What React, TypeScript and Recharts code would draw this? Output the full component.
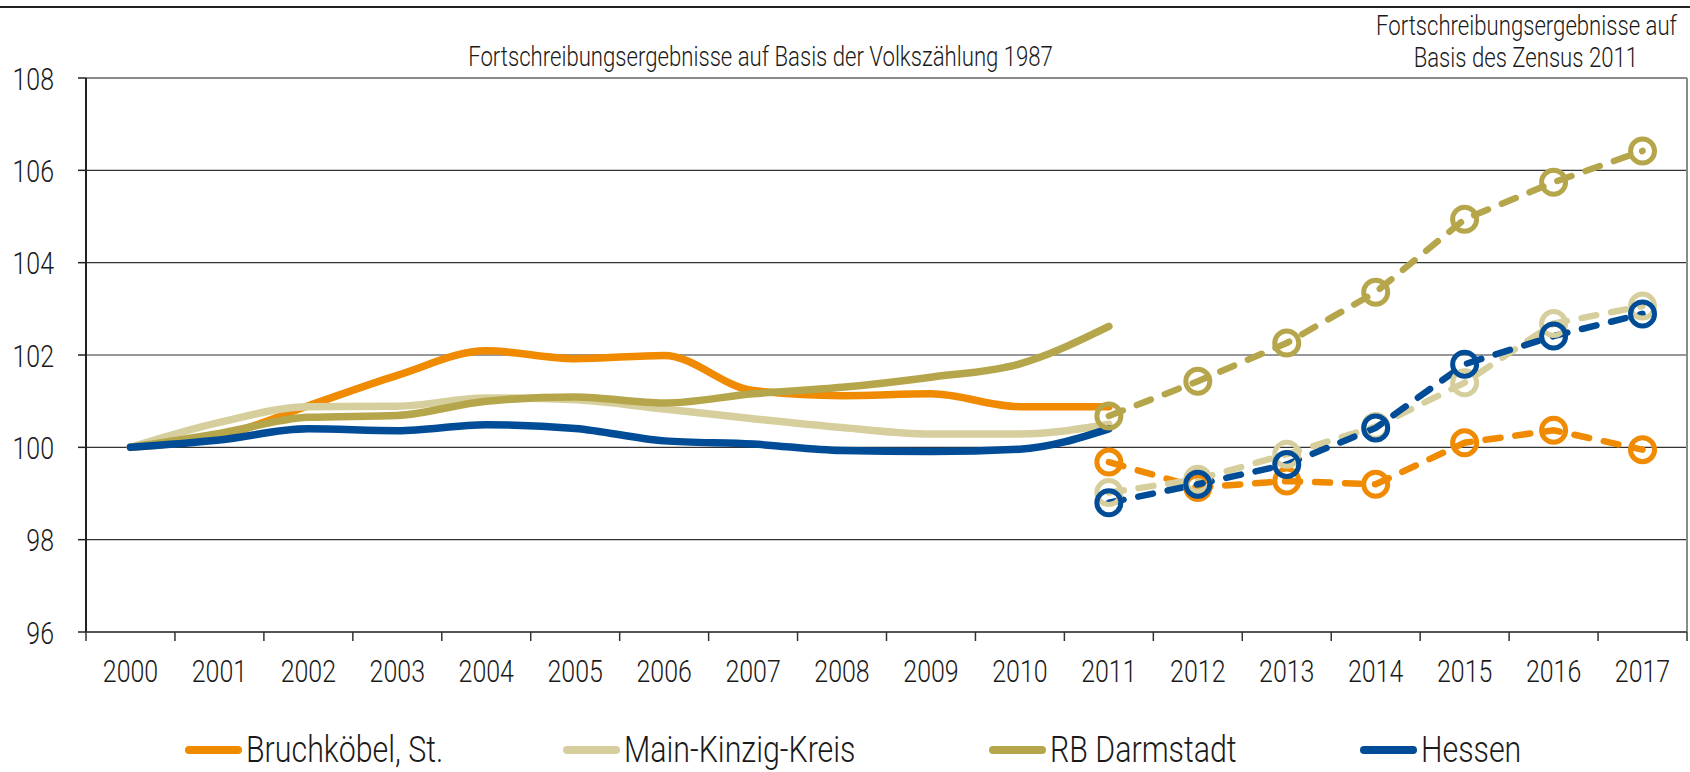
import React from 'react';
import { LineChart, Line, XAxis, YAxis, CartesianGrid, ReferenceLine } from 'recharts';

// Jahre (Kategorien)
const years = [2000, 2001, 2002, 2003, 2004, 2005, 2006, 2007, 2008, 2009, 2010, 2011, 2012, 2013, 2014, 2015, 2016, 2017];
const yTicks = [96, 98, 100, 102, 104, 106, 108];

// Fortschreibung Volkszählung 1987: 2000 - 2011
const bruchkoebelAlt = [100, 100.24, 100.9, 101.56, 102.09, 101.92, 101.99, 101.23, 101.12, 101.16, 100.88, 100.88];
const mainKinzigAlt = [100, 100.54, 100.88, 100.89, 101.07, 101.03, 100.83, 100.62, 100.43, 100.29, 100.29, 100.5];
const rbDarmstadtAlt = [100, 100.3, 100.65, 100.69, 101.0, 101.09, 100.96, 101.16, 101.3, 101.52, 101.81, 102.62];
const hessenAlt = [100, 100.16, 100.4, 100.36, 100.49, 100.41, 100.14, 100.07, 99.93, 99.91, 99.96, 100.4];

// Fortschreibung Zensus 2011: 2011 - 2017
const bruchkoebelNeu = [99.68, 99.13, 99.27, 99.2, 100.1, 100.37, 99.95];
const mainKinzigNeu = [99.02, 99.31, 99.85, 100.45, 101.4, 102.68, 103.06];
const rbDarmstadtNeu = [100.68, 101.43, 102.26, 103.36, 104.94, 105.74, 106.42];
const hessenNeu = [98.8, 99.2, 99.63, 100.42, 101.8, 102.41, 102.89];

const series = [
  { name: 'Bruchköbel, St.', color: '#f08a00', alt: bruchkoebelAlt, neu: bruchkoebelNeu },
  { name: 'Main-Kinzig-Kreis', color: '#d6cf9d', alt: mainKinzigAlt, neu: mainKinzigNeu },
  { name: 'RB Darmstadt', color: '#b6a64b', alt: rbDarmstadtAlt, neu: rbDarmstadtNeu },
  { name: 'Hessen', color: '#004c97', alt: hessenAlt, neu: hessenNeu },
];

// Legendenpositionen (Startpunkt der Linie)
const legendLeft = [185, 563, 989, 1360];

const FONT = "Roboto, 'Liberation Sans', sans-serif";
const TEXT = '#1a1a1a';
const SX = 0.78; // schmale Schrift nachbilden

const zensusStart = years.indexOf(2011);

const chartData = years.map((year, i) => {
  const row: { [key: string]: number | undefined } = { year };
  series.forEach((s, k) => {
    row[`alt${k}`] = s.alt[i];
    row[`neu${k}`] = i >= zensusStart ? s.neu[i - zensusStart] : undefined;
  });
  return row;
});

// Tickstriche zwischen den Jahren, Beschriftung in der Mitte
const xTicks = [...years.map((y) => y - 0.5), years[years.length - 1] + 0.5, ...years];

function YearTick(props: any) {
  const { x, y, payload } = props;
  const v = payload.value;
  if (!Number.isInteger(v)) {
    return <line x1={x} x2={x} y1={y} y2={y + 9} stroke="#333" strokeWidth={1.5} />;
  }
  return (
    <text
      transform={`translate(${x} ${y + 50}) scale(${SX} 1)`}
      textAnchor="middle"
      fontSize={32}
      fontWeight={300}
      fontFamily={FONT}
      fill={TEXT}
    >
      {v}
    </text>
  );
}

function ValueTick(props: any) {
  const { x, y, payload } = props;
  return (
    <text
      transform={`translate(${x} ${y + 11.5}) scale(${SX} 1)`}
      textAnchor="end"
      fontSize={32}
      fontWeight={300}
      fontFamily={FONT}
      fill={TEXT}
    >
      {payload.value}
    </text>
  );
}

const narrow = (s: number, origin: string): React.CSSProperties => ({
  display: 'inline-block',
  transform: `scaleX(${s})`,
  transformOrigin: origin,
});

export default function App() {
  return (
    <div style={{ position: 'absolute', left: 0, top: 0, width: 1690, height: 772, background: '#fff', fontFamily: FONT, fontWeight: 300, color: TEXT }}>
      <div style={{ position: 'absolute', left: 0, top: 6, width: 1690, borderTop: '2px solid #222' }} />

      <div style={{ position: 'absolute', left: 361, top: 44, width: 800, textAlign: 'center', fontSize: 27, lineHeight: 1, whiteSpace: 'nowrap' }}>
        <span style={narrow(0.82, 'center')}>Fortschreibungsergebnisse auf Basis der Volkszählung 1987</span>
      </div>
      <div style={{ position: 'absolute', left: 1326, top: 10, width: 400, textAlign: 'center', fontSize: 27, lineHeight: '32px', whiteSpace: 'nowrap' }}>
        <span style={narrow(0.82, 'center')}>Fortschreibungsergebnisse auf</span>
        <br />
        <span style={narrow(0.82, 'center')}>Basis des Zensus 2011</span>
      </div>

      <LineChart
        width={1690}
        height={772}
        data={chartData}
        margin={{ top: 78, right: 3, bottom: 100, left: 0 }}
        style={{ position: 'absolute', left: 0, top: 0 }}
      >
        <CartesianGrid horizontal vertical={false} stroke="#333" strokeWidth={1.2} />
        <XAxis
          dataKey="year"
          type="number"
          domain={[1999.5, 2017.5]}
          ticks={xTicks}
          interval={0}
          tickLine={false}
          tickSize={0}
          tickMargin={0}
          height={40}
          axisLine={{ stroke: '#555', strokeWidth: 2 }}
          tick={<YearTick />}
        />
        <YAxis
          domain={[96, 108]}
          ticks={yTicks}
          interval={0}
          width={86}
          tickSize={8}
          tickMargin={24}
          tickLine={{ stroke: '#222', strokeWidth: 1.5 }}
          axisLine={{ stroke: '#222', strokeWidth: 2 }}
          tick={<ValueTick />}
        />
        <ReferenceLine y={108} stroke="#8a8a8a" strokeWidth={2} />
        <ReferenceLine x={2017.5} stroke="#8a8a8a" strokeWidth={2} />

        {series.map((s, k) => (
          <Line
            key={`alt${k}`}
            type="monotone"
            dataKey={`alt${k}`}
            stroke={s.color}
            strokeWidth={7.5}
            strokeLinecap="round"
            strokeLinejoin="round"
            dot={false}
            activeDot={false}
            isAnimationActive={false}
          />
        ))}
        {series.map((s, k) => (
          <Line
            key={`neu${k}`}
            type="linear"
            dataKey={`neu${k}`}
            stroke={s.color}
            strokeWidth={6.5}
            strokeDasharray="15 15"
            strokeLinecap="round"
            dot={{ r: 12, fill: 'none', stroke: s.color, strokeWidth: 5, strokeDasharray: 'none' }}
            activeDot={false}
            isAnimationActive={false}
          />
        ))}
      </LineChart>

      {series.map((s, k) => (
        <div
          key={s.name}
          style={{ position: 'absolute', left: legendLeft[k], top: 731, display: 'flex', alignItems: 'center', whiteSpace: 'nowrap' }}
        >
          <span style={{ display: 'inline-block', width: 57, height: 8, borderRadius: 4, background: s.color, marginRight: 4 }} />
          <span style={{ fontSize: 37, lineHeight: 1, ...narrow(0.82, 'left center') }}>{s.name}</span>
        </div>
      ))}
    </div>
  );
}
